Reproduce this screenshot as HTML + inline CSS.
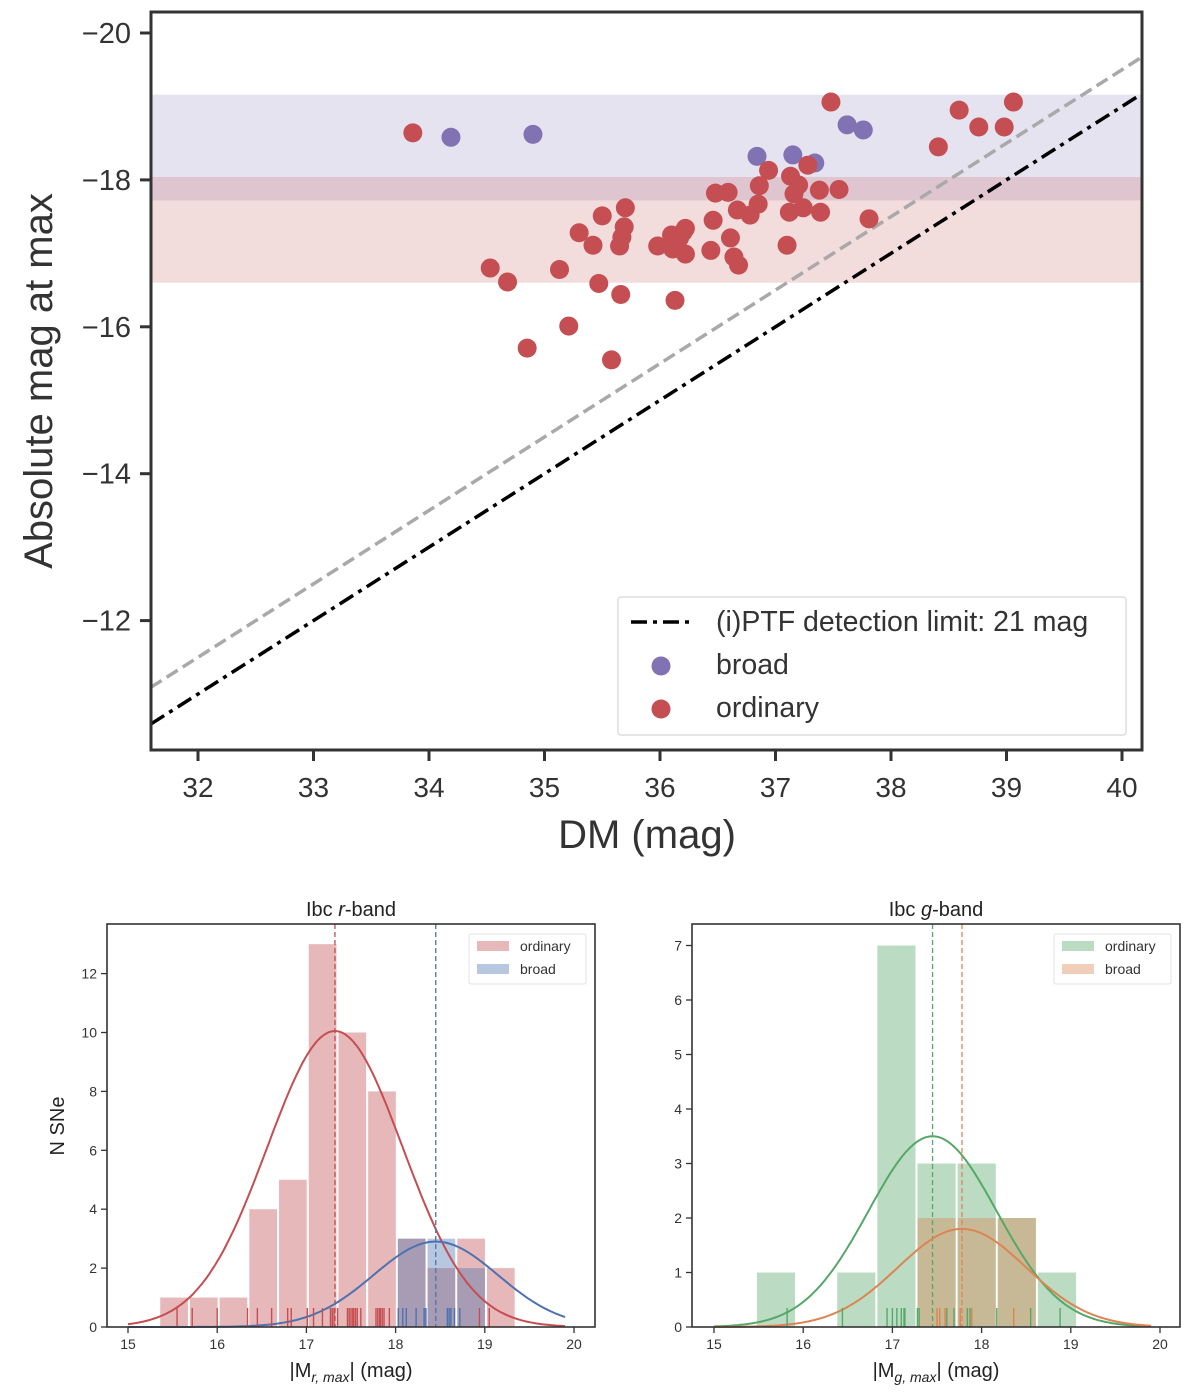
<!DOCTYPE html>
<html><head><meta charset="utf-8"><style>
body{margin:0;background:#fff}
svg{display:block;font-family:"Liberation Sans",Arial,sans-serif}
</style></head><body>
<svg id="fig" width="1200" height="1394" viewBox="0 0 1200 1394" xmlns="http://www.w3.org/2000/svg"></svg>
<script>
// ---------- top scatter data ----------
const broadDM = [34.19,34.90,36.84,37.15,37.34,37.62,37.76];
const broadM  = [-18.58,-18.62,-18.32,-18.34,-18.23,-18.75,-18.68];
const ordDM = [33.86,34.53,34.68,34.85,35.13,35.21,35.30,35.42,35.47,35.50,35.58,35.65,35.66,35.67,35.69,35.70,35.98,36.10,36.11,36.13,36.17,36.20,36.22,36.22,36.44,36.46,36.48,36.59,36.61,36.64,36.67,36.68,36.78,36.85,36.86,36.94,37.10,37.12,37.13,37.16,37.20,37.24,37.28,37.38,37.39,37.48,37.55,37.81,38.41,38.59,38.76,38.98,39.06];
const ordM = [-18.64,-16.80,-16.61,-15.71,-16.78,-16.01,-17.28,-17.11,-16.59,-17.51,-15.55,-17.10,-16.44,-17.22,-17.36,-17.62,-17.10,-17.25,-17.06,-16.36,-17.21,-17.29,-16.99,-17.34,-17.04,-17.45,-17.82,-17.83,-17.21,-16.95,-17.59,-16.84,-17.52,-17.67,-17.92,-18.13,-17.11,-17.56,-18.05,-17.81,-17.93,-17.62,-18.20,-17.86,-17.56,-19.06,-17.87,-17.47,-18.45,-18.95,-18.72,-18.72,-19.06];
const broadBand = [-19.16,-17.72];
const ordBand = [-18.04,-16.60];
const detLimit = 21;
const grayLimit = 20.5;
const topXTicks = [32,33,34,35,36,37,38,39,40];
const topYTicks = [-20,-18,-16,-14,-12];

// ---------- r-band histogram data ----------
const rBinStart = 15.35, rBinW = 0.333;
const rOrdCounts = [1,1,1,4,5,13,10,8,3,2,3,2];
const rBroadStartBin = 8;
const rBroadCounts = [3,3,2];
const rOrdFit = [17.32,0.76,10.05];   // mean, sigma, peak
const rBroadFit = [18.45,0.70,2.9];
const rOrdRug = [15.55,15.72,16.00,16.34,16.45,16.61,16.79,16.83,17.01,17.08,17.18,17.27,17.29,17.31,17.35,17.46,17.48,17.50,17.52,17.53,17.55,17.57,17.61,17.78,17.80,17.82,17.83,17.85,17.87,17.93,18.94,19.05];
const rBroadRug = [18.03,18.08,18.12,18.23,18.32,18.34,18.58,18.60,18.62,18.66,18.72];
const rYTicks = [0,2,4,6,8,10,12];

// ---------- g-band histogram data ----------
const gBinStart = 15.47, gBinW = 0.45;
const gOrdCounts = [1,0,1,7,3,3,2,1];
const gBroadStartBin = 4;
const gBroadCounts = [2,2,2];
const gOrdFit = [17.45,0.72,3.5];
const gBroadFit = [17.78,0.72,1.8];
const gOrdRug = [15.82,16.44,16.94,17.00,17.05,17.10,17.13,17.14,17.28,17.30,17.61,17.69,17.84,17.87,18.17,18.55,18.88];
const gBroadRug = [17.50,17.53,17.59,17.76,17.89,18.36];
const gYTicks = [0,1,2,3,4,5,6,7];
const histXTicks = [15,16,17,18,19,20];

const NS="http://www.w3.org/2000/svg";
const svg=document.getElementById('fig');
function mk(tag,attrs,parent){const e=document.createElementNS(NS,tag);for(const k in attrs)e.setAttribute(k,attrs[k]);(parent||svg).appendChild(e);return e;}
function txt(s,attrs,parent){const e=mk('text',attrs,parent);e.textContent=s;return e;}

// ================= TOP =================
const T={l:151,r:1142,t:12,b:750};
const tx=d=>198+(d-32)*115.5;
const ty=m=>33+(m+20)*73.45;
const xMin=31.59,xMax=40.16;
const gTop=mk('g',{});


let band=mk('rect',{x:T.l,y:ty(broadBand[0]),width:T.r-T.l,height:ty(broadBand[1])-ty(broadBand[0]),fill:'#8172B3','fill-opacity':0.2},gTop);


band=mk('rect',{x:T.l,y:ty(ordBand[0]),width:T.r-T.l,height:ty(ordBand[1])-ty(ordBand[0]),fill:'#C44E52','fill-opacity':0.2},gTop);


let ln=mk('line',{x1:tx(xMin),y1:ty(grayLimit-xMin),x2:tx(xMax),y2:ty(grayLimit-xMax),stroke:'#a9a9a9','stroke-width':3.5,'stroke-dasharray':'13,6'},gTop);


ln=mk('line',{x1:tx(xMin),y1:ty(detLimit-xMin),x2:tx(xMax),y2:ty(detLimit-xMax),stroke:'#000','stroke-width':3.5,'stroke-dasharray':'16,6,4,6'},gTop);


broadDM.forEach((d,i)=>{const c=mk('circle',{cx:tx(d),cy:ty(broadM[i]),r:9.5,fill:'#8172B3'},gTop);

});
ordDM.forEach((d,i)=>{const c=mk('circle',{cx:tx(d),cy:ty(ordM[i]),r:9.5,fill:'#C44E52'},gTop);

});
let fr=mk('rect',{x:T.l,y:T.t,width:T.r-T.l,height:T.b-T.t,fill:'none',stroke:'#333','stroke-width':3},gTop);


topXTicks.forEach(v=>{mk('line',{x1:tx(v),y1:T.b,x2:tx(v),y2:T.b+11,stroke:'#333','stroke-width':3},gTop);
const t=txt(v,{x:tx(v),y:T.b+47,'font-size':28,'text-anchor':'middle',fill:'#333'},gTop);

});
topYTicks.forEach(v=>{mk('line',{x1:T.l-11,y1:ty(v),x2:T.l,y2:ty(v),stroke:'#333','stroke-width':3},gTop);
const t=txt('\u2212'+Math.abs(v),{x:T.l-20,y:ty(v)+10,'font-size':29,'text-anchor':'end',fill:'#333'},gTop);

});
let lab=txt('DM (mag)',{x:647,y:848,'font-size':40,'text-anchor':'middle',fill:'#333'},gTop);


lab=txt('Absolute mag at max',{x:0,y:0,'font-size':40,'text-anchor':'middle',fill:'#333',transform:'translate(52,381) rotate(-90)'},gTop);


const lg=mk('g',{},gTop);


mk('rect',{x:618,y:597,width:508,height:138,rx:3,fill:'#fff','fill-opacity':0.8,stroke:'#ddd','stroke-width':1.5},lg);
mk('line',{x1:631,y1:622,x2:692,y2:622,stroke:'#000','stroke-width':3.5,'stroke-dasharray':'16,6,4,6'},lg);
txt('(i)PTF detection limit: 21 mag',{x:716,y:631,'font-size':28.5,fill:'#333'},lg);
mk('circle',{cx:661,cy:666,r:9.5,fill:'#8172B3'},lg);
txt('broad',{x:716,y:674,'font-size':28.5,fill:'#333'},lg);
mk('circle',{cx:661,cy:709,r:9.5,fill:'#C44E52'},lg);
txt('ordinary',{x:716,y:717,'font-size':28.5,fill:'#333'},lg);

// ================= HISTOGRAMS =================
function gauss(x,f){return f[2]*Math.exp(-Math.pow(x-f[0],2)/(2*f[1]*f[1]));}
function panel(o){
  const g=mk('g',{});
  
  
  const X=v=>o.x15+(v-15)*89.2;
  const Y=v=>o.b-v*o.ppu;
  o.ordCounts.forEach((c,i)=>{if(!c)return;const x0=X(o.bs+i*o.bw),x1=X(o.bs+(i+1)*o.bw);
    const r=mk('rect',{x:x0+1,y:Y(c),width:x1-x0-2,height:Y(0)-Y(c),fill:o.c1,'fill-opacity':0.4},g);
    
    });
  o.broadCounts.forEach((c,j)=>{const i=o.bstart+j;if(!c)return;const x0=X(o.bs+i*o.bw),x1=X(o.bs+(i+1)*o.bw);
    const r=mk('rect',{x:x0+1,y:Y(c),width:x1-x0-2,height:Y(0)-Y(c),fill:o.c2,'fill-opacity':0.4},g);
    
    });
  [[o.f1,o.c1,'ordinary-fit'],[o.f2,o.c2,'broad-fit']].forEach(([f,c,n])=>{
    let d='';for(let k=0;k<=200;k++){const v=15+k*4.9/200;d+=(k?'L':'M')+X(v).toFixed(1)+','+Y(gauss(v,f)).toFixed(1);}
    const p=mk('path',{d,fill:'none',stroke:c,'stroke-width':2},g);
    
    
    const m=mk('line',{x1:X(f[0]),y1:o.t,x2:X(f[0]),y2:o.b,stroke:c,'stroke-width':1.3,'stroke-dasharray':'5,3'},g);
    
    });
  [[o.rug1,o.c1],[o.rug2,o.c2]].forEach(([rg,c])=>rg.forEach(v=>{
    const r=mk('line',{x1:X(v),y1:o.b,x2:X(v),y2:o.b-19,stroke:c,'stroke-width':1.4},g);
    
    }));
  const f=mk('rect',{x:o.l,y:o.t,width:o.r-o.l,height:o.b-o.t,fill:'none',stroke:'#333','stroke-width':1.6},g);
  
  
  histXTicks.forEach(v=>{mk('line',{x1:X(v),y1:o.b,x2:X(v),y2:o.b+6,stroke:'#333','stroke-width':1.3},g);
    const t=txt(v,{x:X(v),y:o.b+22,'font-size':14,'text-anchor':'middle',fill:'#333'},g);
    
    });
  o.yticks.forEach(v=>{mk('line',{x1:o.l-6,y1:Y(v),x2:o.l,y2:Y(v),stroke:'#333','stroke-width':1.3},g);
    const t=txt(v,{x:o.l-10,y:Y(v)+5,'font-size':14,'text-anchor':'end',fill:'#333'},g);
    
    });
  const ti=mk('text',{x:(o.l+o.r)/2,y:o.t-8,'font-size':20,'text-anchor':'middle',fill:'#222'},g);
  ti.innerHTML='Ibc <tspan font-style="italic">'+o.band+'</tspan>-band';
  
  
  const xl=mk('text',{x:(o.l+o.r)/2,y:o.b+50,'font-size':20,'text-anchor':'middle',fill:'#222'},g);
  xl.innerHTML='|M<tspan font-size="14" dy="5" font-style="italic">'+o.band+', max</tspan><tspan dy="-5">| (mag)</tspan>';
  
  
  const L=mk('g',{},g);
  
  
  mk('rect',{x:o.r-126,y:934,width:117,height:50,rx:2,fill:'#fff',stroke:'#e3e3e3'},L);
  mk('rect',{x:o.r-118,y:941,width:32,height:10,fill:o.c1,'fill-opacity':0.4},L);
  mk('rect',{x:o.r-118,y:964,width:32,height:10,fill:o.c2,'fill-opacity':0.4},L);
  txt('ordinary',{x:o.r-75,y:951,'font-size':14,fill:'#333'},L);
  txt('broad',{x:o.r-75,y:974,'font-size':14,fill:'#333'},L);
}
panel({name:'r-band-histogram',l:107,r:595,t:924,b:1327,x15:128,ppu:29.45,bs:rBinStart,bw:rBinW,ordCounts:rOrdCounts,broadCounts:rBroadCounts,bstart:rBroadStartBin,f1:rOrdFit,f2:rBroadFit,rug1:rOrdRug,rug2:rBroadRug,c1:'#C44E52',c2:'#4C72B0',yticks:rYTicks,band:'r'});
panel({name:'g-band-histogram',l:692,r:1180,t:924,b:1327,x15:714,ppu:54.5,bs:gBinStart,bw:gBinW,ordCounts:gOrdCounts,broadCounts:gBroadCounts,bstart:gBroadStartBin,f1:gOrdFit,f2:gBroadFit,rug1:gOrdRug,rug2:gBroadRug,c1:'#55A868',c2:'#DD8452',yticks:gYTicks,band:'g'});
const ny=txt('N SNe',{x:0,y:0,'font-size':20,'text-anchor':'middle',fill:'#222',transform:'translate(64,1126) rotate(-90)'});


</script>
</body></html>
